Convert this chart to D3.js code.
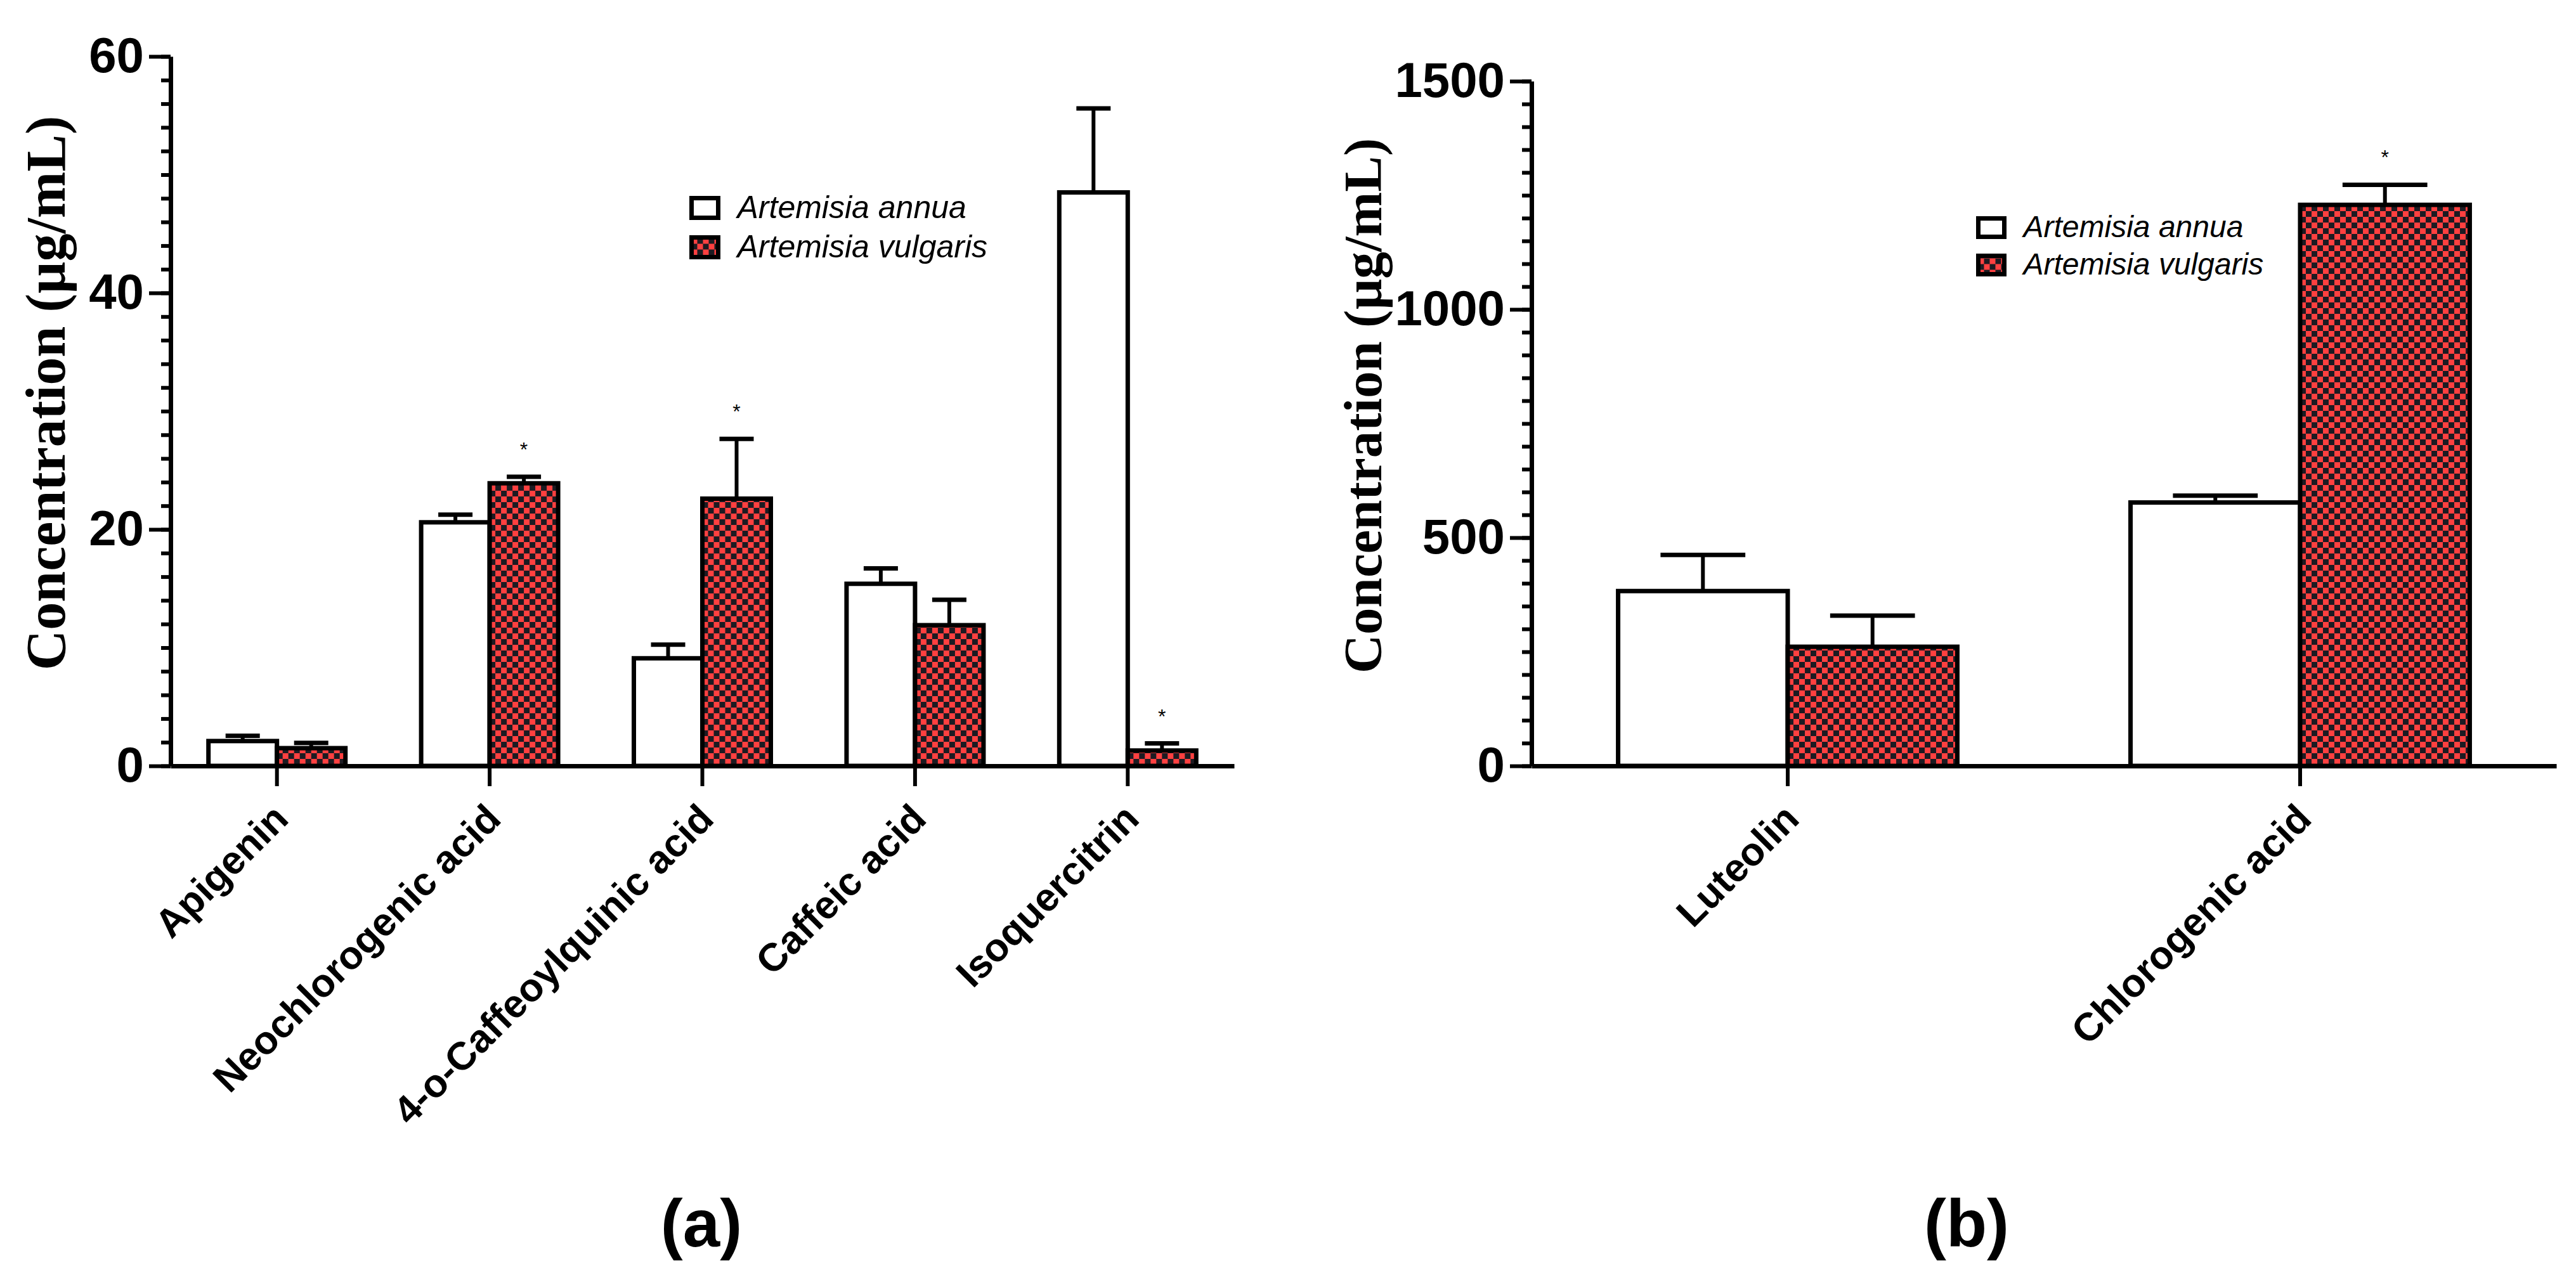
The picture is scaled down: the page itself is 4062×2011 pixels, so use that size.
<!DOCTYPE html>
<html>
<head>
<meta charset="utf-8">
<script src="https://cdn.jsdelivr.net/npm/d3@7"></script>
<style>
  body { margin: 0; background: #fff; }
  svg { display: block; }
</style>
</head>
<body>
<script>
const width = 4062;
const height = 2011;

// series
const seriesNames = ["Artemisia annua", "Artemisia vulgaris"];

// panel (a)
const catsA = ["Apigenin", "Neochlorogenic acid", "4-o-Caffeoylquinic acid", "Caffeic acid", "Isoquercitrin"];
const annuaA = [2.1, 20.6, 9.1, 15.4, 48.5];
const annuaErrA = [0.45, 0.65, 1.15, 1.3, 7.1];
const vulgA = [1.5, 23.9, 22.6, 11.9, 1.3];
const vulgErrA = [0.45, 0.55, 5.05, 2.15, 0.6];
const starsA = [false, true, true, false, true];
const yTicksA = [0, 20, 40, 60];

// panel (b)
const catsB = ["Luteolin", "Chlorogenic acid"];
const annuaB = [383, 577];
const annuaErrB = [79, 15];
const vulgB = [261, 1229];
const vulgErrB = [68, 44];
const starsB = [false, true];
const yTicksB = [0, 500, 1000, 1500];

const sans = "'Liberation Sans', Arial, sans-serif";
const serif = "'Liberation Serif', 'Times New Roman', serif";
const red = "#ff4040";
const dark = "#1c1b22";

const svg = d3.select("body").append("svg")
  .attr("width", width)
  .attr("height", height)
  .attr("viewBox", [0, 0, width, height]);

// checker fill for A. vulgaris
const pat = svg.append("defs").append("pattern")
  .attr("id", "checker")
  .attr("patternUnits", "userSpaceOnUse")
  .attr("width", 18)
  .attr("height", 18);
pat.append("rect").attr("width", 18).attr("height", 18).attr("fill", red);
pat.append("rect").attr("width", 9).attr("height", 9).attr("fill", dark);
pat.append("rect").attr("x", 9).attr("y", 9).attr("width", 9).attr("height", 9).attr("fill", dark);

function drawPanel(p) {
  const g = svg.append("g");

  const x = d3.scaleBand().domain(p.cats).range(p.xRange);
  const y = d3.scaleLinear().domain([0, p.yTicks[p.yTicks.length - 1]]).range(p.yRange);
  const barW = x.step() * p.barFrac;

  const rows = p.cats.map((c, i) => ({
    cat: c,
    a: p.annua[i], ae: p.annuaErr[i],
    v: p.vulg[i], ve: p.vulgErr[i],
    star: p.stars[i]
  }));

  // bars
  const groups = g.selectAll(".grp").data(rows).enter().append("g")
    .attr("transform", d => `translate(${x(d.cat) + x.step() / 2}, 0)`);

  const series = [
    { key: "a", err: "ae", dx: -barW, fill: "#fff" },
    { key: "v", err: "ve", dx: 0, fill: "url(#checker)" }
  ];

  series.forEach(s => {
    groups.append("line")
      .attr("x1", s.dx + barW / 2).attr("x2", s.dx + barW / 2)
      .attr("y1", d => y(d[s.key])).attr("y2", d => y(d[s.key] + d[s.err]))
      .attr("stroke", "#000").attr("stroke-width", 6);
    groups.append("line")
      .attr("x1", s.dx + barW / 4).attr("x2", s.dx + barW * 3 / 4)
      .attr("y1", d => y(d[s.key] + d[s.err])).attr("y2", d => y(d[s.key] + d[s.err]))
      .attr("stroke", "#000").attr("stroke-width", 7);
    groups.append("rect")
      .attr("x", s.dx)
      .attr("y", d => y(d[s.key]))
      .attr("width", barW)
      .attr("height", d => y(0) - y(d[s.key]))
      .attr("fill", s.fill)
      .attr("stroke", "#000")
      .attr("stroke-width", 7);
  });

  groups.filter(d => d.star).append("text")
    .attr("x", barW / 2)
    .attr("y", d => y(d.v + d.ve) - 32)
    .attr("text-anchor", "middle")
    .attr("font-family", sans)
    .attr("font-size", 32)
    .text("*");

  // y axis: minor then major ticks
  const yMax = p.yTicks[p.yTicks.length - 1];
  g.append("g")
    .attr("transform", `translate(${p.xRange[0]}, 0)`)
    .call(d3.axisLeft(y).tickValues(d3.range(0, yMax + 1e-9, p.minor)).tickSize(15).tickFormat(""))
    .call(a => a.select(".domain").remove())
    .call(a => a.selectAll("line").attr("stroke-width", 6));

  g.append("g")
    .attr("transform", `translate(${p.xRange[0]}, 0)`)
    .call(d3.axisLeft(y).tickValues(p.yTicks).tickFormat(d3.format("d")).tickSize(34).tickSizeOuter(0).tickPadding(8))
    .call(a => a.select(".domain").attr("stroke-width", 7))
    .call(a => a.selectAll("line").attr("stroke-width", 6))
    .call(a => a.selectAll("text")
      .attr("font-family", sans)
      .attr("font-weight", "bold")
      .attr("font-size", 78)
      .attr("fill", "#000"));

  // x axis
  g.append("g")
    .attr("transform", `translate(0, ${y(0)})`)
    .call(d3.axisBottom(x).tickSize(32).tickSizeOuter(0))
    .call(a => a.select(".domain").attr("stroke-width", 7))
    .call(a => a.selectAll("line").attr("stroke-width", 6))
    .call(a => a.selectAll("text")
      .attr("x", null).attr("y", null).attr("dy", null)
      .attr("transform", "translate(21, 87) rotate(-45)")
      .attr("text-anchor", "end")
      .attr("font-family", sans)
      .attr("font-weight", "bold")
      .attr("font-size", 62)
      .attr("fill", "#000"));

  // y title
  g.append("text")
    .attr("transform", `translate(${p.titleX}, ${p.titleY}) rotate(-90)`)
    .attr("text-anchor", "middle")
    .attr("font-family", serif)
    .attr("font-weight", "bold")
    .attr("font-size", p.titleSize)
    .text("Concentration (µg/mL)");

  // legend
  const leg = g.append("g").attr("transform", `translate(${p.legend[0]}, ${p.legend[1]})`);
  seriesNames.forEach((name, i) => {
    leg.append("rect")
      .attr("x", 0).attr("y", i * p.legendGap)
      .attr("width", p.boxW).attr("height", p.boxH)
      .attr("fill", i === 0 ? "#fff" : "url(#checker)")
      .attr("stroke", "#000").attr("stroke-width", 7);
    leg.append("text")
      .attr("x", p.boxW + 30)
      .attr("y", i * p.legendGap + p.boxH)
      .attr("font-family", sans)
      .attr("font-style", "italic")
      .attr("font-size", p.legendSize)
      .text(name);
  });

  // panel label
  g.append("text")
    .attr("x", p.label[0]).attr("y", p.label[1])
    .attr("text-anchor", "middle")
    .attr("font-family", sans)
    .attr("font-weight", "bold")
    .attr("font-size", 105)
    .text(p.labelText);
}

drawPanel({
  cats: catsA, annua: annuaA, annuaErr: annuaErrA, vulg: vulgA, vulgErr: vulgErrA, stars: starsA,
  yTicks: yTicksA, minor: 2,
  xRange: [269, 1946], yRange: [1208, 89], barFrac: 0.322,
  titleX: 102, titleY: 620, titleSize: 88,
  legend: [1090.5, 312.5], legendGap: 62, boxW: 42, boxH: 31, legendSize: 50,
  label: [1106, 1966], labelText: "(a)"
});

drawPanel({
  cats: catsB, annua: annuaB, annuaErr: annuaErrB, vulg: vulgB, vulgErr: vulgErrB, stars: starsB,
  yTicks: yTicksB, minor: 50,
  xRange: [2415, 4031], yRange: [1208, 128], barFrac: 0.331,
  titleX: 2178, titleY: 640, titleSize: 85,
  legend: [3119.5, 344.5], legendGap: 59, boxW: 41, boxH: 29, legendSize: 48,
  label: [3101, 1966], labelText: "(b)"
});
</script>
</body>
</html>
